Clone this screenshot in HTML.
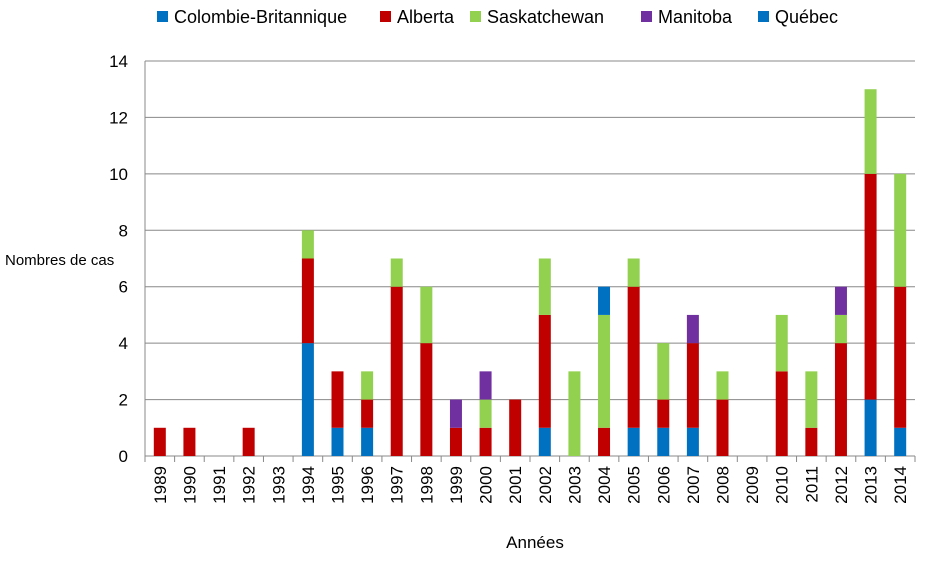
<!DOCTYPE html>
<html><head><meta charset="utf-8"><style>
body{margin:0;background:#fff;font-family:"Liberation Sans",sans-serif}
</style></head><body>
<svg id="c" width="930" height="570" xmlns="http://www.w3.org/2000/svg"></svg>
<script>
const years=[1989,1990,1991,1992,1993,1994,1995,1996,1997,1998,1999,2000,2001,2002,2003,2004,2005,2006,2007,2008,2009,2010,2011,2012,2013,2014];
const cb=[0,0,0,0,0,4,1,1,0,0,0,0,0,1,0,0,1,1,1,0,0,0,0,0,2,1];
const ab=[1,1,0,1,0,3,2,1,6,4,1,1,2,4,0,1,5,1,3,2,0,3,1,4,8,5];
const sk=[0,0,0,0,0,1,0,1,1,2,0,1,0,2,3,4,1,2,0,1,0,2,2,1,3,4];
const mb=[0,0,0,0,0,0,0,0,0,0,1,1,0,0,0,0,0,0,1,0,0,0,0,1,0,0];
const qc=[0,0,0,0,0,0,0,0,0,0,0,0,0,0,0,1,0,0,0,0,0,0,0,0,0,0];
const yTicks=[0,2,4,6,8,10,12,14];
const seriesNames=["Colombie-Britannique","Alberta","Saskatchewan","Manitoba","Québec"];
const colors=["#0070C0","#C00000","#92D050","#7030A0","#0070C0"];
const series=[cb,ab,sk,mb,qc];
const svg=document.getElementById('c');const NS="http://www.w3.org/2000/svg";
const L=145,R=915,T=61,B=456,yMax=14;
const bw=(R-L)/years.length;
const y=v=>B-(v/yMax)*(B-T);
const xc=i=>L+bw*(i+0.5);
function mk(t,a,p){const e=document.createElementNS(NS,t);for(const k in a)e.setAttribute(k,a[k]);(p||svg).appendChild(e);return e;}
yTicks.forEach(t=>{
 const g=mk('line',{x1:L,x2:R,y1:y(t),y2:y(t),stroke:'#888','stroke-width':1});
 
 
 const tx=mk('text',{x:128,y:y(t)+6,'text-anchor':'end','font-size':17,fill:'#000'});tx.textContent=t;
 
 
});
const ax=mk('line',{x1:L,x2:L,y1:T,y2:B+6,stroke:'#888'});


years.forEach((yr,i)=>{
 let base=0;
 series.forEach((s,k)=>{
  if(s[i]>0){
   const r=mk('rect',{x:xc(i)-6,y:y(base+s[i]),width:12,height:y(base)-y(base+s[i]),fill:colors[k]});
   
   
   base+=s[i];
  }
 });
 const tk=mk('line',{x1:L+bw*(i+1),x2:L+bw*(i+1),y1:B,y2:B+6,stroke:'#888'});
 
 
 const tx=mk('text',{transform:`translate(${xc(i)+6},${B+10}) rotate(-90)`,'text-anchor':'end','font-size':17});tx.textContent=yr;
 
 
});
const yt=mk('text',{x:5,y:265,'font-size':15});yt.textContent="Nombres de cas";


const xt=mk('text',{x:535,y:548,'text-anchor':'middle','font-size':17});xt.textContent="Années";


const lx=[157,380,470,641,758];
seriesNames.forEach((n,k)=>{
 const g=mk('g',{});
 
 
 mk('rect',{x:lx[k],y:11,width:11,height:11,fill:colors[k]},g);
 const t=mk('text',{x:lx[k]+17,y:23,'font-size':18},g);t.textContent=n;
});
</script>
</body></html>
